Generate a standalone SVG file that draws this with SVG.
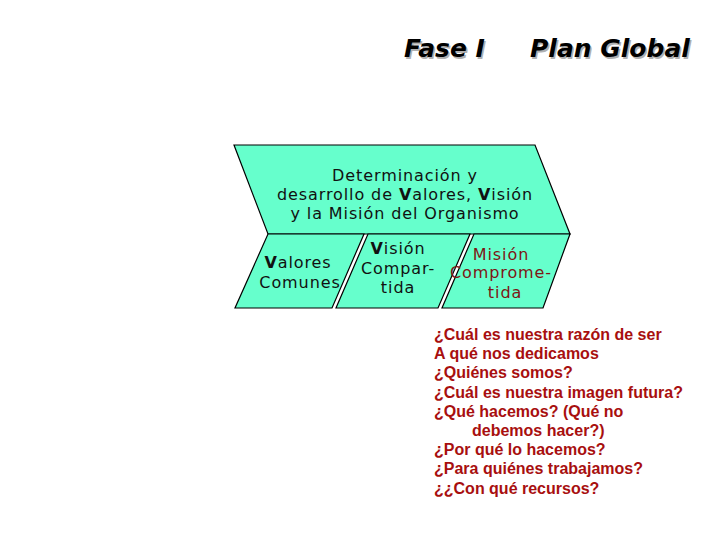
<svg xmlns="http://www.w3.org/2000/svg" width="720" height="540" viewBox="0 0 720 540">
<style>
.box{fill:#66ffcc;stroke:#000;stroke-width:1.2;stroke-linejoin:miter}
.v{font-family:"DejaVu Sans",Verdana,sans-serif;font-size:16px;letter-spacing:0.9px;fill:#111;text-anchor:middle}
.red{fill:#7d1515}
.q{font-family:"Liberation Sans",Arial,sans-serif;font-size:16px;font-weight:bold;fill:#a80f0f}
.title{font-family:"DejaVu Sans",Verdana,sans-serif;font-size:25px;font-weight:bold;font-style:italic}
</style>
<rect width="720" height="540" fill="#fff"/>
<g id="title">
<text class="title" x="405.5" y="58.5" fill="#b0b0b0">Fase I</text>
<text class="title" x="404" y="57" fill="#000">Fase I</text>
<text class="title" x="531.5" y="58.5" fill="#b0b0b0">Plan Global</text>
<text class="title" x="530" y="57" fill="#000">Plan Global</text>
</g>
<g id="top">
<polygon class="box" points="234,145 535,145 570,234 268,234"/>
<text class="v" x="405" y="181">Determinación y</text>
<text class="v" x="405" y="200">desarrollo de <tspan font-weight="bold">V</tspan>alores, <tspan font-weight="bold">V</tspan>isión</text>
<text class="v" x="405" y="219">y la Misión del Organismo</text>
</g>
<g id="valores">
<polygon class="box" points="268,234 364,234 332,308 235,308"/>
<text class="v" x="298" y="268"><tspan font-weight="bold">V</tspan>alores</text>
<text class="v" x="300" y="288">Comunes</text>
</g>
<g id="vision">
<polygon class="box" points="368,234 470,234 438,308 336,308"/>
<text class="v" x="398" y="254"><tspan font-weight="bold">V</tspan>isión</text>
<text class="v" x="398" y="274">Compar-</text>
<text class="v" x="398" y="293">tida</text>
</g>
<g id="mision">
<polygon class="box" points="474,234 570,234 543,308 442,308"/>
<text class="v red" x="501" y="260">Misión</text>
<text class="v red" x="501" y="278">Comprome-</text>
<text class="v red" x="505" y="298">tida</text>
</g>
<g id="preguntas">
<text class="q" x="434" y="340">¿Cuál es nuestra razón de ser</text>
<text class="q" x="434" y="359">A qué nos dedicamos</text>
<text class="q" x="434" y="378">¿Quiénes somos?</text>
<text class="q" x="434" y="398">¿Cuál es nuestra imagen futura?</text>
<text class="q" x="434" y="417">¿Qué hacemos? (Qué no</text>
<text class="q" x="472" y="436">debemos hacer?)</text>
<text class="q" x="434" y="455">¿Por qué lo hacemos?</text>
<text class="q" x="434" y="474">¿Para quiénes trabajamos?</text>
<text class="q" x="434" y="494">¿¿Con qué recursos?</text>
</g>
<g id="connectors"></g>
</svg>
